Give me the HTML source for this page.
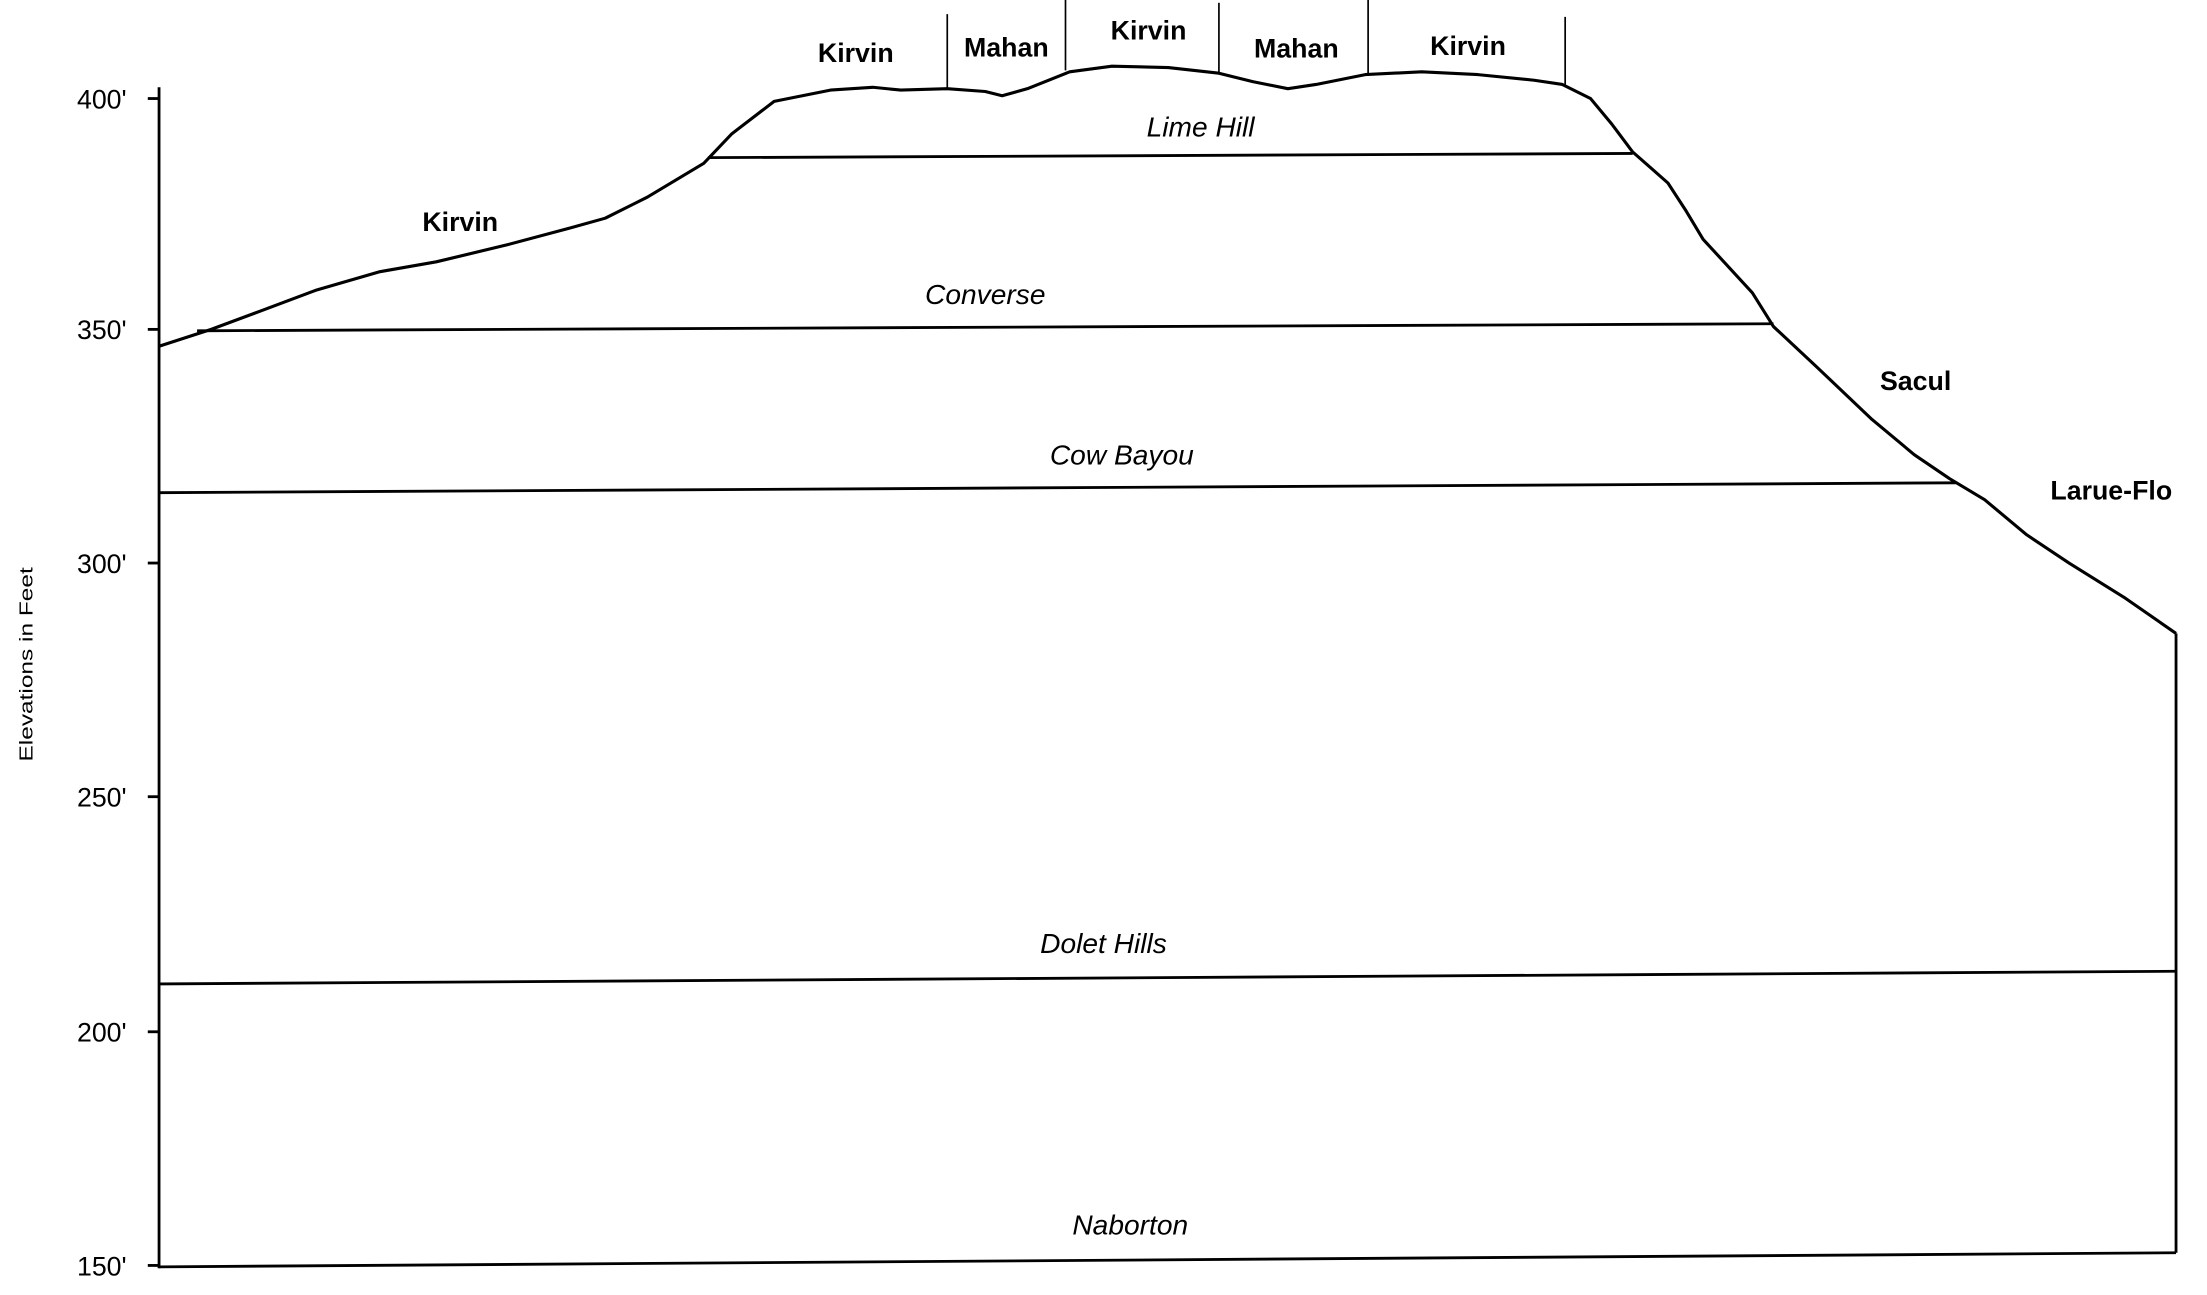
<!DOCTYPE html>
<html><head><meta charset="utf-8"><style>
html,body{margin:0;padding:0;background:#fff;}
svg{display:block;}
.b{font-family:"Liberation Sans",sans-serif;font-weight:bold;font-size:19px;}
.i{font-family:"Liberation Sans",sans-serif;font-style:italic;font-size:20px;}
.t{font-family:"Liberation Sans",sans-serif;font-size:19px;}
</style></head><body>
<svg width="2207" height="1295" viewBox="0 0 1568 920" preserveAspectRatio="none" xmlns="http://www.w3.org/2000/svg">
<g stroke="#000" fill="none" stroke-width="2" stroke-linejoin="round">
<line x1="113" y1="62" x2="113" y2="901"/>
<line x1="105" y1="70" x2="113" y2="70"/>
<line x1="105" y1="234" x2="113" y2="234"/>
<line x1="105" y1="400" x2="113" y2="400"/>
<line x1="105" y1="566" x2="113" y2="566"/>
<line x1="105" y1="733" x2="113" y2="733"/>
<line x1="105" y1="899" x2="113" y2="899"/>
<line x1="1546" y1="450" x2="1546" y2="890"/>
<line x1="113" y1="900" x2="1546" y2="890"/>
<line x1="113" y1="699" x2="1546" y2="690"/>
<line x1="113" y1="350" x2="1390" y2="343"/>
<line x1="140" y1="235" x2="1260" y2="230"/>
<line x1="503" y1="112" x2="1160" y2="109"/>
<path stroke-width="2.2" d="M113,246 L150,234 L185,221 L225,206 L270,193 L310,186 L360,174 L405,162 L430,155 L460,140 L500,116 L520,95 L550,72 L590,64 L620,62 L640,64 L673,63 L700,65 L712,68 L730,63 L760,51 L790,47 L830,48 L866,52 L890,58 L915,63 L935,60 L970,53 L1010,51 L1050,53 L1090,57 L1110,60 L1130,70 L1145,88 L1160,108 L1185,130 L1198,150 L1210,170 L1245,208 L1260,232 L1290,260 L1330,298 L1360,323 L1385,340 L1410,355 L1440,380 L1470,400 L1510,425 L1546,450"/>
<g stroke-width="1.2">
<line x1="673" y1="10" x2="673" y2="63"/>
<line x1="757" y1="0" x2="757" y2="50"/>
<line x1="866" y1="2" x2="866" y2="52"/>
<line x1="972" y1="0" x2="972" y2="53"/>
<line x1="1112" y1="12" x2="1112" y2="60"/>
</g>
</g>
<g class="t" text-anchor="end">
<text x="90" y="77">400'</text>
<text x="90" y="241">350'</text>
<text x="90" y="407">300'</text>
<text x="90" y="573">250'</text>
<text x="90" y="740">200'</text>
<text x="90" y="906">150'</text>
</g>
<text class="t" style="font-size:13px" transform="translate(23,472) rotate(-90)" text-anchor="middle" textLength="138" lengthAdjust="spacingAndGlyphs">Elevations in Feet</text>
<g class="b" text-anchor="middle">
<text x="608" y="44">Kirvin</text>
<text x="715" y="40">Mahan</text>
<text x="816" y="28">Kirvin</text>
<text x="921" y="41">Mahan</text>
<text x="1043" y="39">Kirvin</text>
<text x="327" y="164">Kirvin</text>
<text x="1361" y="277">Sacul</text>
<text x="1500" y="355">Larue-Flo</text>
</g>
<g class="i" text-anchor="middle">
<text x="853" y="97">Lime Hill</text>
<text x="700" y="216">Converse</text>
<text x="797" y="330">Cow Bayou</text>
<text x="784" y="677">Dolet Hills</text>
<text x="803" y="877">Naborton</text>
</g>
</svg>
</body></html>
